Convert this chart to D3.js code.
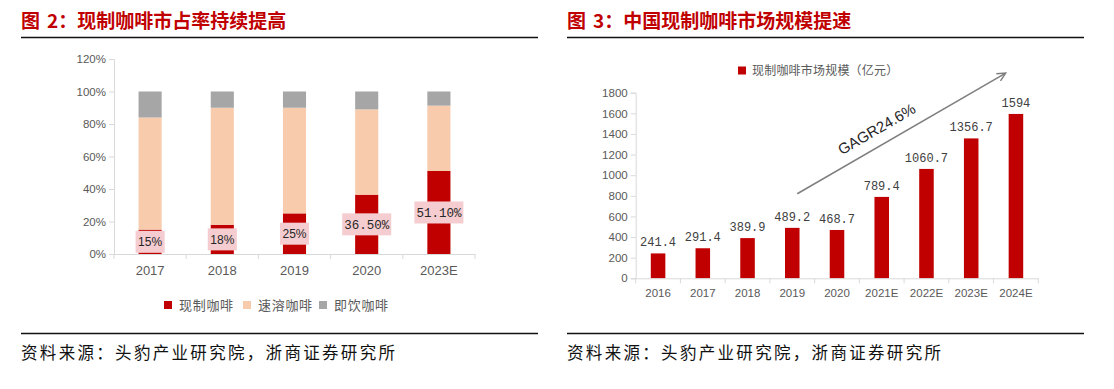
<!DOCTYPE html>
<html>
<head>
<meta charset="utf-8">
<script src="https://cdn.jsdelivr.net/npm/d3@7"></script>
<style>
  body { margin: 0; background: #fff; }
  svg { display: block; }
  .tick text { fill: #595959; }
</style>
</head>
<body>
<div id="wrapper"></div>
<script>
// left chart data
const shareYears = ['2017', '2018', '2019', '2020', '2023E']
const freshShare = [15, 18, 25, 36.5, 51.1]
const instantShare = [69, 72, 65, 52.5, 40.2]
const rtdShare = [16, 10, 10, 11, 8.7]
const shareLabels = ['15%', '18%', '25%', '36.50%', '51.10%']
const shareTicks = [0, 20, 40, 60, 80, 100, 120]
const shareSeries = ['现制咖啡', '速溶咖啡', '即饮咖啡']

// right chart data
const marketYears = ['2016', '2017', '2018', '2019', '2020', '2021E', '2022E', '2023E', '2024E']
const marketSize = [241.4, 291.4, 389.9, 489.2, 468.7, 789.4, 1060.7, 1356.7, 1594]
const marketLabels = ['241.4', '291.4', '389.9', '489.2', '468.7', '789.4', '1060.7', '1356.7', '1594']
const marketTicks = [0, 200, 400, 600, 800, 1000, 1200, 1400, 1600, 1800]

const red = '#c00000'
const peach = '#f8cbad'
const grey = '#a6a6a6'
const cjk = '"Noto Sans CJK SC", sans-serif'
const latin = '"Liberation Sans", Arial, sans-serif'
const mono = '"Liberation Mono", monospace'

const svg = d3.select('#wrapper').append('svg')
  .attr('width', 1114).attr('height', 389)

// titles, rules, source
const panels = [
  { x0: 21, x1: 538, num: '2', title: '：现制咖啡市占率持续提高' },
  { x0: 567, x1: 1084, num: '3', title: '：中国现制咖啡市场规模提速' },
]
panels.forEach((p) => {
  const t = svg.append('text').attr('x', p.x0).attr('y', 28)
    .attr('font-family', cjk).attr('font-size', 19).attr('font-weight', 700)
    .attr('fill', red)
  t.append('tspan').text('图')
  t.append('tspan').attr('dx', 7).text(p.num + p.title)
  svg.append('line').attr('x1', p.x0).attr('x2', p.x1).attr('y1', 37.5).attr('y2', 37.5)
    .attr('stroke', '#111').attr('stroke-width', 1.3)
  svg.append('line').attr('x1', p.x0).attr('x2', p.x1).attr('y1', 333.5).attr('y2', 333.5)
    .attr('stroke', '#111').attr('stroke-width', 1.3)
  svg.append('text').attr('x', p.x0).attr('y', 359)
    .attr('font-family', cjk).attr('font-size', 16.5).attr('fill', '#111')
    .attr('textLength', 374).attr('lengthAdjust', 'spacing')
    .text('资料来源：头豹产业研究院，浙商证券研究所')
})

// ---------- left chart ----------
const xL = d3.scaleBand().domain(shareYears).range([114, 475])
  .paddingInner(0.68).paddingOuter(0.34)
const yL = d3.scaleLinear().domain([0, 120]).range([254, 59])

const stackRows = shareYears.map((yr, i) => ({
  year: yr, fresh: freshShare[i], instant: instantShare[i], rtd: rtdShare[i],
}))
const stack = d3.stack().keys(['fresh', 'instant', 'rtd'])(stackRows)
const colorL = d3.scaleOrdinal().domain(['fresh', 'instant', 'rtd']).range([red, peach, grey])

const left = svg.append('g')
left.selectAll('g.layer').data(stack).join('g')
  .attr('class', 'layer').attr('fill', (d) => colorL(d.key))
  .selectAll('rect').data((d) => d).join('rect')
  .attr('x', (d) => xL(d.data.year))
  .attr('width', xL.bandwidth())
  .attr('y', (d) => yL(d[1]))
  .attr('height', (d) => yL(d[0]) - yL(d[1]))

const yAxisL = left.append('g').attr('transform', 'translate(114,0)')
  .call(d3.axisLeft(yL).tickValues(shareTicks).tickFormat((d) => d + '%').tickSize(5).tickPadding(3))
yAxisL.selectAll('text').attr('font-family', latin).attr('font-size', 11.5)
const xAxisL = left.append('g').attr('transform', 'translate(0,254)')
  .call(d3.axisBottom(xL).tickSize(0).tickPadding(12))
xAxisL.selectAll('text').attr('font-family', latin).attr('font-size', 13)
// category separators on the baseline
xAxisL.selectAll('.sep').data(d3.range(shareYears.length + 1)).join('line')
  .attr('x1', (i) => 114 + i * xL.step()).attr('x2', (i) => 114 + i * xL.step())
  .attr('y1', 0).attr('y2', 5).attr('stroke', '#d9d9d9')
left.selectAll('.domain').attr('stroke', '#d9d9d9')
left.selectAll('.tick line').attr('stroke', '#d9d9d9')

// share labels with pink boxes
const lab = left.selectAll('g.lab').data(shareYears).join('g').attr('class', 'lab')
lab.each(function (yr, i) {
  const g = d3.select(this)
  const cx = xL(yr) + xL.bandwidth() / 2
  const cy = yL(freshShare[i] / 2)
  const rect = g.append('rect').attr('fill', '#f5cdd0')
  const t = g.append('text').attr('x', cx).attr('y', cy).attr('dy', '0.36em')
    .attr('text-anchor', 'middle').attr('fill', '#262626')
    .attr('font-family', i < 3 ? latin : mono).attr('font-size', i < 3 ? 12 : 12.5)
    .text(shareLabels[i])
  const w = Math.max(xL.bandwidth() + 6, t.node().getComputedTextLength() + 4)
  rect.attr('x', cx - w / 2).attr('width', w).attr('y', cy - 11).attr('height', 22)
})

// legend
const legL = left.append('g')
const legX = [164, 243, 319]
shareSeries.forEach((s, i) => {
  legL.append('rect').attr('x', legX[i]).attr('y', 301).attr('width', 8).attr('height', 8)
    .attr('fill', [red, peach, grey][i])
  legL.append('text').attr('x', legX[i] + 15).attr('y', 305).attr('dy', '0.36em')
    .attr('font-family', cjk).attr('font-size', 13).attr('fill', '#595959')
    .attr('letter-spacing', 0.7).text(s)
})

// ---------- right chart ----------
const xR = d3.scaleBand().domain(marketYears).range([635.7, 1038.3])
  .paddingInner(0.675).paddingOuter(0.3375)
const yR = d3.scaleLinear().domain([0, 1800]).range([278.3, 92.7])

const right = svg.append('g')
right.selectAll('rect.bar').data(marketSize).join('rect').attr('class', 'bar')
  .attr('x', (d, i) => xR(marketYears[i]))
  .attr('width', xR.bandwidth())
  .attr('y', (d) => yR(d))
  .attr('height', (d) => yR(0) - yR(d))
  .attr('fill', red)
right.selectAll('text.val').data(marketSize).join('text').attr('class', 'val')
  .attr('x', (d, i) => xR(marketYears[i]) + xR.bandwidth() / 2)
  .attr('y', (d) => yR(d) - 7)
  .attr('text-anchor', 'middle').attr('font-family', mono).attr('font-size', 12)
  .attr('fill', '#404040')
  .text((d, i) => marketLabels[i])

const yAxisR = right.append('g').attr('transform', 'translate(635.7,0)')
  .call(d3.axisLeft(yR).tickValues(marketTicks).tickFormat(d3.format('d')).tickSize(5).tickPadding(3))
yAxisR.selectAll('text').attr('font-family', latin).attr('font-size', 11.5)
const xAxisR = right.append('g').attr('transform', 'translate(0,278.3)')
  .call(d3.axisBottom(xR).tickSize(0).tickPadding(11))
xAxisR.selectAll('text').attr('font-family', latin).attr('font-size', 11.5)
xAxisR.selectAll('.sep').data(d3.range(marketYears.length + 1)).join('line')
  .attr('x1', (i) => 635.7 + i * xR.step()).attr('x2', (i) => 635.7 + i * xR.step())
  .attr('y1', 0).attr('y2', 5).attr('stroke', '#d9d9d9')
right.selectAll('.domain').attr('stroke', '#d9d9d9')
right.selectAll('.tick line').attr('stroke', '#d9d9d9')

// legend
right.append('rect').attr('x', 738).attr('y', 66.5).attr('width', 8).attr('height', 8).attr('fill', red)
right.append('text').attr('x', 752).attr('y', 70.5).attr('dy', '0.36em')
  .attr('font-family', cjk).attr('font-size', 12).attr('fill', '#595959')
  .attr('letter-spacing', 0.2).text('现制咖啡市场规模（亿元）')

// growth arrow, anchored in data units
const ax0 = xR('2019') + xR.bandwidth() / 2 + 5
const ay0 = yR(820)
const ax1 = xR('2024E') - 3
const ay1 = yR(1990)
svg.append('defs').append('marker').attr('id', 'arr')
  .attr('viewBox', '0 0 10 10').attr('refX', 9).attr('refY', 5)
  .attr('markerWidth', 7).attr('markerHeight', 7).attr('orient', 'auto')
  .append('path').attr('d', 'M1,1 L9,5 L1,9').attr('fill', 'none')
  .attr('stroke', '#7f7f7f').attr('stroke-width', 1.4)
right.append('line').attr('x1', ax0).attr('y1', ay0).attr('x2', ax1).attr('y2', ay1)
  .attr('stroke', '#7f7f7f').attr('stroke-width', 1.5).attr('marker-end', 'url(#arr)')
const ang = Math.atan2(ay1 - ay0, ax1 - ax0) * 180 / Math.PI
const tx = ax0 + (ax1 - ax0) * 0.42
const ty = ay0 + (ay1 - ay0) * 0.42
right.append('text')
  .attr('transform', `translate(${tx},${ty}) rotate(${ang}) translate(0,-11)`)
  .attr('text-anchor', 'middle').attr('font-family', latin).attr('font-size', 15)
  .attr('fill', '#262626').text('GAGR24.6%')
</script>
</body>
</html>
